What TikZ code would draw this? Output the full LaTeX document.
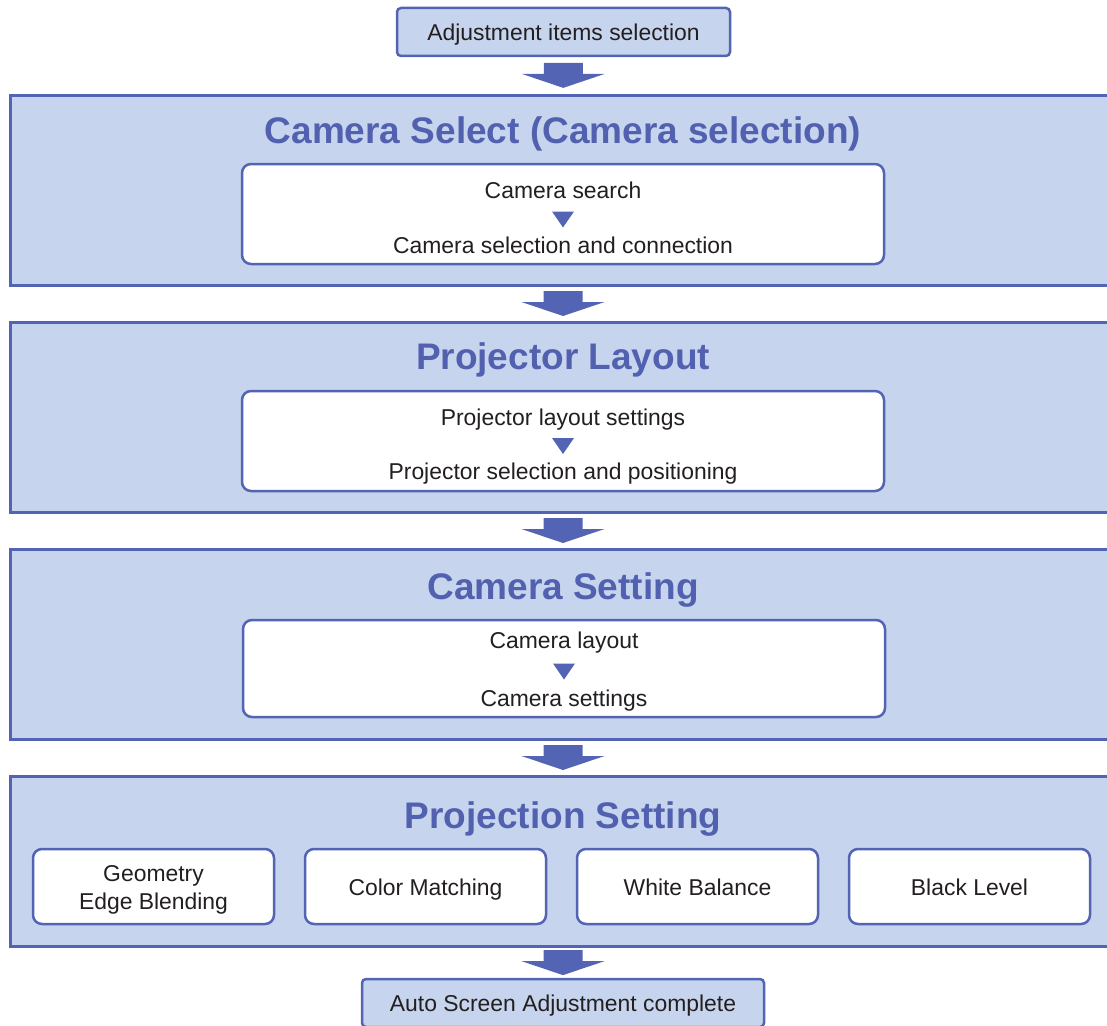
\documentclass[tikz,border=0pt]{standalone}
\usepackage{fontspec}
\setmainfont{Liberation Sans}
\usetikzlibrary{positioning,calc}
\definecolor{frameblue}{RGB}{84,100,180}
\definecolor{paleblue}{RGB}{198,213,237}
\definecolor{titleblue}{RGB}{82,96,176}
\definecolor{inkblack}{RGB}{35,31,32}

\begin{document}
\begin{tikzpicture}[x=1pt,y=1pt,
  plain/.style={text=inkblack, font=\fontsize{22.9}{28}\selectfont, align=center},
  endbox/.style={plain, rectangle, draw=frameblue, line width=2.5pt, fill=paleblue, rounded corners=4pt, minimum height=48pt, inner sep=0pt, text height=20.4pt, text depth=4pt},
  phase/.style={rectangle, draw=frameblue, line width=3pt, fill=paleblue, minimum width=1106pt},
  phasetitle/.style={text=titleblue, font=\fontsize{37}{44}\selectfont\bfseries},
  inner/.style={rectangle, draw=frameblue, line width=2.5pt, fill=white, rounded corners=9pt, minimum width=642pt, minimum height=100pt},
  item/.style={plain, rectangle, draw=frameblue, line width=2.5pt, fill=white, rounded corners=9pt, minimum width=241pt, minimum height=75pt, inner sep=0pt, text height=21pt, text depth=4pt},
  stepline/.style={plain, text height=16pt, text depth=4pt, inner sep=0pt},
  bigarrow/.style={fill=frameblue},
  tinyarrow/.style={fill=frameblue}]

\clip (0,0) rectangle (1107,-1025);

\node[endbox, minimum width=333pt] (adj) at (563.5,-32) {Adjustment items selection};

% phases
\node[phase, minimum height=190pt] (cs) at (563,-190) {};
\node[phase, minimum height=190pt] (pl) at (563,-417) {};
\node[phase, minimum height=190pt] (cset) at (563,-644) {};
\node[phase, minimum height=170pt] (ps) at (563,-861) {};

\node[endbox, minimum width=402pt] (done) at (563,-1003) {Auto Screen Adjustment complete};

\node[phasetitle] (cst) at ($(cs.north)+(0,-40)$) {Camera Select (Camera selection)};
\node[phasetitle] (plt) at ($(pl.north)+(0,-39)$) {Projector Layout};
\node[phasetitle] (csett) at ($(cset.north)+(0,-43)$) {Camera Setting};
\node[phasetitle] (pst) at ($(ps.north)+(0,-45)$) {Projection Setting};

% inner steps
\node[inner] (in1) at (563,-214) {};
\node[inner] (in2) at (563,-441) {};
\node[inner, minimum height=97pt] (in3) at (564,-668.5) {};

\node[stepline] (a1) at ($(in1.center)+(0,22)$) {Camera search};
\node[stepline] (a2) at ($(in1.center)+(0,-33)$) {Camera selection and connection};
\node[stepline] (b1) at ($(in2.center)+(0,22)$) {Projector layout settings};
\node[stepline] (b2) at ($(in2.center)+(0,-32)$) {Projector selection and positioning};
\node[stepline] (c1) at ($(in3.center)+(0,26)$) {Camera layout};
\node[stepline] (c2) at ($(in3.center)+(0,-32)$) {Camera settings};

\foreach \a/\b in {a1/a2,b1/b2,c1/c2}
  \fill[tinyarrow] ($(\a)!.5!(\b)+(-11,8)$) -- ++(22,0) -- ++(-11,-16) -- cycle;

% projection items
\node[item, text height=50pt, text depth=4.6pt] (geo) at (153.5,-886.5) {Geometry\\Edge Blending};
\node[item, right=28.5pt of geo] (col) {Color Matching};
\node[item, right=28.5pt of col] (wb) {White Balance};
\node[item, right=28.5pt of wb] (bl) {Black Level};

% flow arrows
\foreach \a/\b in {adj/cs,cs/pl,pl/cset,cset/ps,ps/done}
  \fill[bigarrow] ($(\a.south)!.5!(\b.north)+(-19.5,12.5)$) -- ++(39,0) -- ++(0,-11) -- ++(22,0) -- ++(-41.5,-14) -- ++(-41.5,14) -- ++(22,0) -- cycle;

\end{tikzpicture}
\end{document}
